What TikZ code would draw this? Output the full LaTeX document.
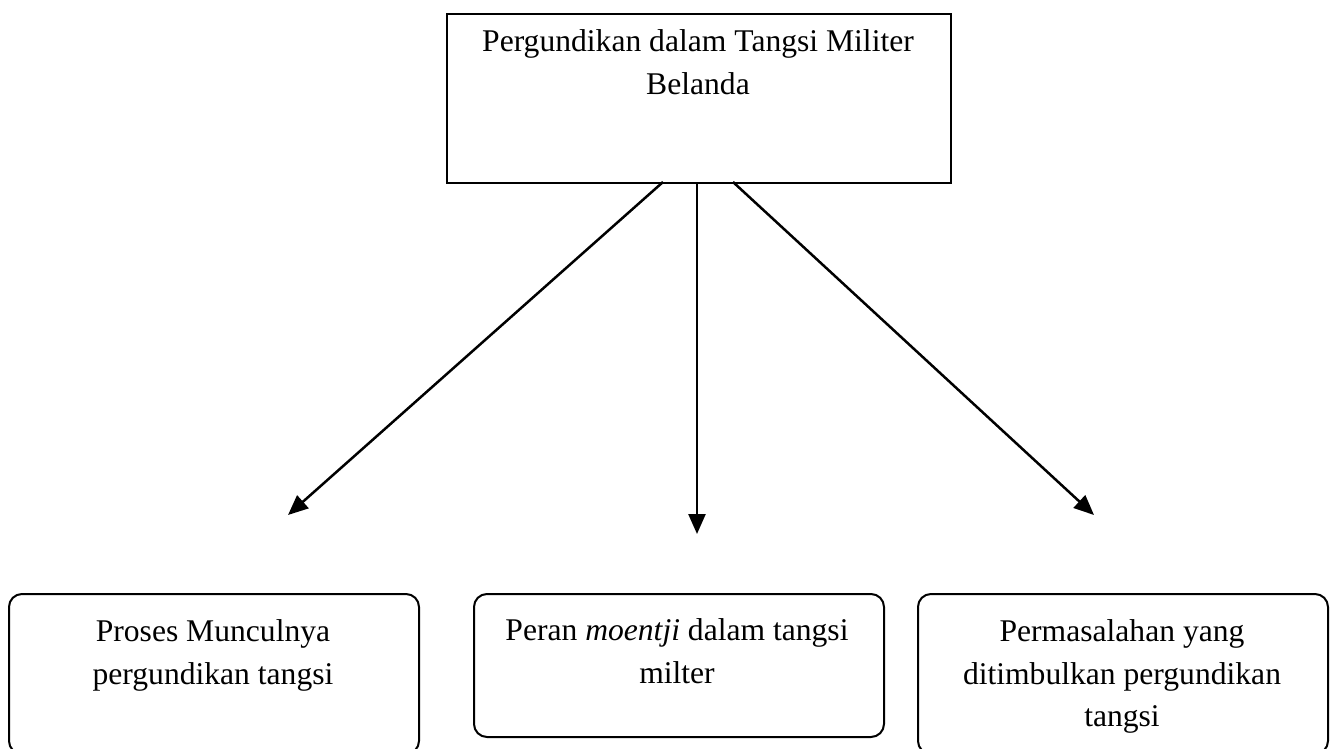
\documentclass[tikz,border=0pt]{standalone}
\usepackage{fontspec}
\setmainfont{Liberation Serif}
\usetikzlibrary{arrows.meta}
\begin{document}
\begin{tikzpicture}[x=0.5pt,y=-0.5pt,
  box/.style={draw,line width=1pt,inner sep=0pt,anchor=north west},
  rbox/.style={box,rounded corners=6.5pt},
  txt/.style={anchor=base,inner sep=0pt,font=\fontsize{15.8}{21.5}\selectfont},
  arr/.style={line width=1.25pt,-{Triangle[length=10pt,width=8.5pt]}}]
\useasboundingbox (0,0) rectangle (1333,749);
% top box
\node[box,minimum width=252pt,minimum height=84.5pt] (top) at (446,13) {};
\node[txt] (topa) at (698,52) {Pergundikan dalam Tangsi Militer};
\node[txt] (topb) at (698,95) {Belanda};
% bottom boxes
\node[rbox,minimum width=205pt,minimum height=80pt] (b1) at (8,593) {};
\node[txt] (b1a) at (213,641) {Proses Munculnya};
\node[txt] (b1b) at (213,684) {pergundikan tangsi};
\node[rbox,minimum width=205pt,minimum height=71.5pt] (b2) at (473,593) {};
\node[txt] (b2a) at (677,640) {Peran \textit{moentji} dalam tangsi};
\node[txt] (b2b) at (677,683) {milter};
\node[rbox,minimum width=205pt,minimum height=80pt] (b3) at (917,593) {};
\node[txt] (b3a) at (1122,641) {Permasalahan yang};
\node[txt] (b3b) at (1122,684) {ditimbulkan pergundikan};
\node[txt] (b3c) at (1122,726) {tangsi};
% arrows
\coordinate (s1) at (663,182);
\coordinate (s2) at (697,182);
\coordinate (s3) at (733,182);
\coordinate (e1) at (288,515);
\coordinate (e2) at (697,534);
\coordinate (e3) at (1094,515);
\draw[arr] (s1) -- (e1);
\draw[arr] (s2) -- (e2);
\draw[arr] (s3) -- (e3);
\end{tikzpicture}
\end{document}
